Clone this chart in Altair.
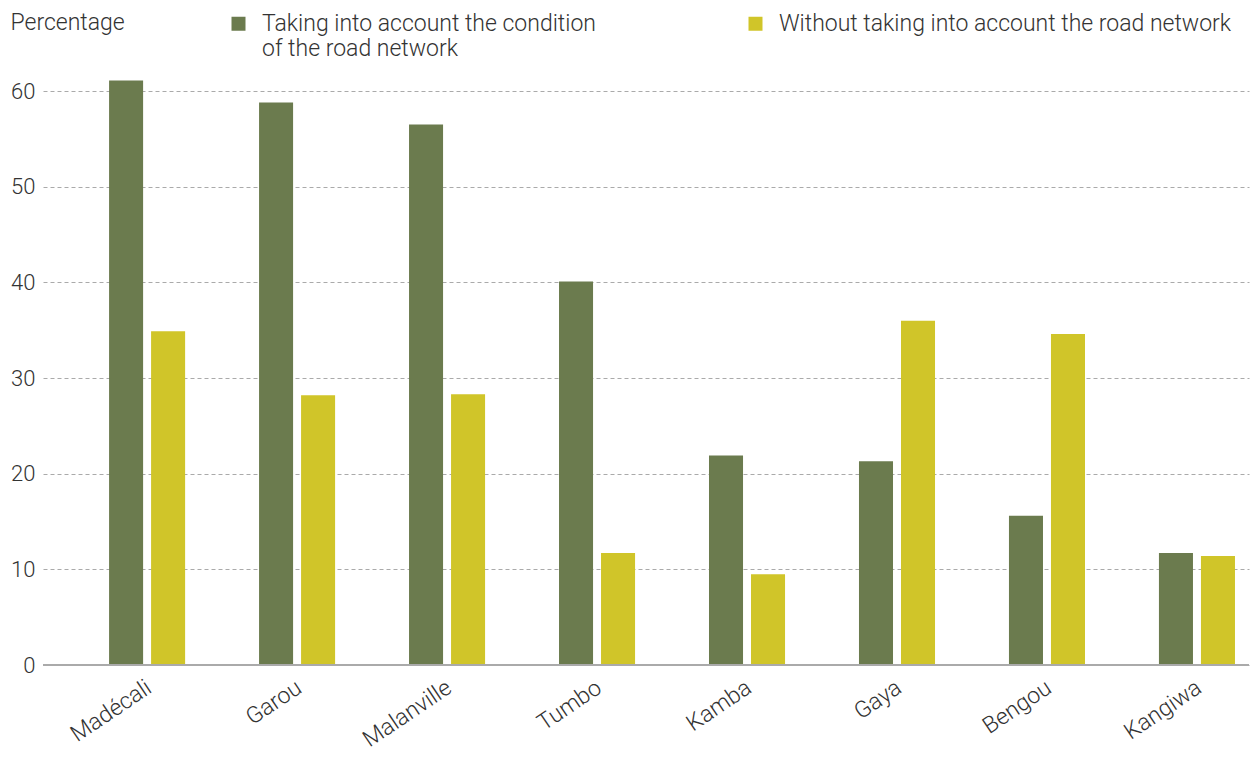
import altair as alt
import pandas as pd

sites = ["Madécali", "Garou", "Malanville", "Tumbo", "Kamba", "Gaya", "Bengou", "Kangiwa"]
with_road = [61.1, 58.8, 56.5, 40.1, 21.9, 21.3, 15.6, 11.7]
without_road = [34.9, 28.2, 28.3, 11.7, 9.5, 36.0, 34.6, 11.4]
series = ["Taking into account the condition of the road network",
          "Without taking into account the road network"]
colors = ["#6b7b4e", "#d0c529"]
y_ticks = [0, 10, 20, 30, 40, 50, 60]

rows = []
for i, s in enumerate(sites):
    rows.append({"site": s, "series": series[0], "value": with_road[i]})
    rows.append({"site": s, "series": series[1], "value": without_road[i]})
df = pd.DataFrame(rows)

FONT = "Roboto"
TXT = "#333333"

label_expr = ("datum.label == 'Taking into account the condition of the road network' "
              "? ['Taking into account the condition', 'of the road network'] "
              ": [datum.label, ' ']")

chart = alt.Chart(df).mark_bar().encode(
    x=alt.X("site:N", sort=sites,
            scale=alt.Scale(paddingInner=0.493, paddingOuter=0.267, align=0.825),
            axis=alt.Axis(title=None, labelAngle=326, labelAlign="right", labelBaseline="top",
                          labelPadding=11, labelOffset=-4, ticks=False, domain=False, grid=False,
                          labelFontSize=23, labelFont=FONT, labelFontWeight=300,
                          labelColor=TXT)),
    xOffset=alt.XOffset("series:N", sort=series, scale=alt.Scale(paddingInner=0.19)),
    y=alt.Y("value:Q", scale=alt.Scale(domain=[0, 62], nice=False),
            axis=alt.Axis(values=y_ticks, title="Percentage", titleAngle=0, titleAlign="left",
                          titleBaseline="middle", titleX=-33, titleY=-50,
                          titleFontSize=23, titleFont=FONT, titleFontWeight=300, titleColor=TXT,
                          labelFontSize=22, labelFont=FONT, labelFontWeight=300, labelColor=TXT,
                          labelPadding=8, ticks=False, domain=False,
                          grid=True, gridColor="#aaaaaa", gridDash=[4, 3], gridWidth=1)),
    color=alt.Color("series:N", sort=series,
                    scale=alt.Scale(domain=series, range=colors),
                    legend=alt.Legend(title=None, orient="none", legendX=184, legendY=-60,
                                      direction="horizontal", columns=2, columnPadding=148,
                                      symbolType="square", symbolSize=196, symbolStrokeWidth=0,
                                      labelFontSize=23, labelFont=FONT, labelFontWeight=300,
                                      labelColor=TXT, labelOffset=12, labelLimit=600,
                                      labelExpr=label_expr)),
).properties(width=1206, height=593)

base = alt.Chart(pd.DataFrame({"v": [0]})).mark_rule(color="#aaaaaa", strokeWidth=2).encode(
    y=alt.Y("v:Q", scale=alt.Scale(domain=[0, 62], nice=False))
)

final = alt.layer(chart, base).properties(
    autosize=alt.AutoSizeParams(type="none"),
    padding={"left": 43, "top": 72, "right": 10, "bottom": 94},
).configure_view(stroke=None)

final.save("out.html", embed_options={"renderer": "svg", "actions": False})
